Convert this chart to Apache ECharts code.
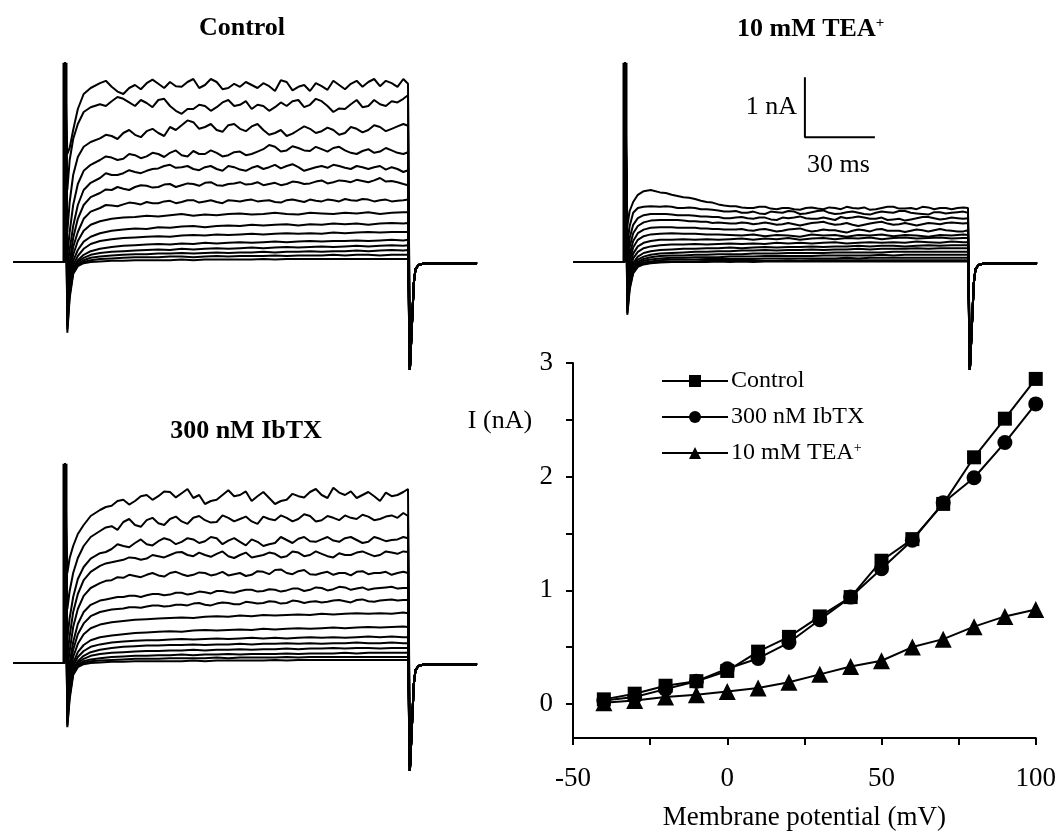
<!DOCTYPE html>
<html><head><meta charset="utf-8">
<script src="https://cdn.jsdelivr.net/npm/echarts/dist/echarts.min.js"></script>
<style>html,body{margin:0;padding:0;background:#fff}#c{width:1059px;height:832px}</style>
</head><body><div id="c"></div>
<script>
const FONT = '"Liberation Serif", "Times New Roman", serif';

// ---------- current traces (nA) sampled at these times (ms after step onset) ----------
const timeMs = [1, 2, 3.5, 5.5, 8, 11, 15, 20, 25, 30, 35, 40, 45, 50, 55, 60, 65, 70, 75, 80, 85, 90, 95, 100, 105, 110, 115, 120, 125, 130, 135, 140, 145, 147];
// extra samples between the 5-ms points, read for the larger (noisier) traces
const midTimeMs = [17.5, 22.5, 27.5, 32.5, 37.5, 42.5, 47.5, 52.5, 57.5, 62.5, 67.5, 72.5, 77.5, 82.5, 87.5, 92.5, 97.5, 102.5, 107.5, 112.5, 117.5, 122.5, 127.5, 132.5, 137.5, 142.5];
const preTimes = [-22, -0.3];
const spikeTime = 0;
const spikePeak = 3.32;
const tailTimes = [147.8, 148.6, 149.5, 150.2, 151.5, 154, 176.6];
const tailCurrent = [-1.8, -1.8, -0.35, -0.12, -0.05, -0.02, -0.02];
const stepPotentials = [-40, -30, -20, -10, 0, 10, 20, 30, 40, 50, 60, 70, 80, 90, 100];

const controlTraces = [
  [-1.18,-0.6,-0.2,-0.07,-0.02,0.0,0.01,0.02,0.02,0.03,0.03,0.03,0.03,0.04,0.03,0.04,0.04,0.04,0.04,0.04,0.05,0.04,0.05,0.05,0.05,0.05,0.05,0.05,0.05,0.05,0.05,0.05,0.05,0.05],
  [-1.12,-0.55,-0.18,-0.05,0.0,0.03,0.05,0.06,0.07,0.08,0.08,0.08,0.09,0.09,0.08,0.09,0.1,0.09,0.1,0.1,0.1,0.11,0.1,0.11,0.11,0.11,0.12,0.11,0.12,0.12,0.11,0.12,0.12,0.12],
  [-1.07,-0.5,-0.15,-0.03,0.03,0.07,0.09,0.11,0.12,0.13,0.13,0.14,0.14,0.15,0.14,0.15,0.16,0.15,0.16,0.16,0.17,0.16,0.17,0.17,0.18,0.17,0.18,0.18,0.19,0.18,0.19,0.2,0.19,0.2],
  [-1.0,-0.45,-0.12,0.0,0.07,0.12,0.15,0.17,0.18,0.19,0.2,0.21,0.2,0.22,0.21,0.22,0.23,0.22,0.23,0.24,0.23,0.24,0.25,0.24,0.25,0.26,0.25,0.26,0.27,0.26,0.27,0.28,0.27,0.28],
  [-0.9,-0.4,-0.1,0.03,0.12,0.18,0.22,0.25,0.27,0.28,0.29,0.3,0.29,0.31,0.3,0.32,0.31,0.32,0.33,0.32,0.33,0.34,0.33,0.34,0.35,0.34,0.35,0.35,0.36,0.35,0.36,0.37,0.36,0.37],
  [-0.8,-0.35,-0.05,0.1,0.22,0.3,0.35,0.38,0.4,0.41,0.42,0.43,0.42,0.44,0.45,0.44,0.46,0.45,0.46,0.47,0.46,0.47,0.48,0.47,0.48,0.47,0.49,0.48,0.49,0.5,0.49,0.5,0.5,0.5],
  [-0.7,-0.3,0.02,0.2,0.34,0.42,0.48,0.52,0.54,0.56,0.55,0.58,0.57,0.59,0.6,0.58,0.6,0.61,0.6,0.62,0.61,0.62,0.63,0.61,0.63,0.62,0.64,0.63,0.64,0.62,0.64,0.65,0.64,0.65],
  [-0.55,-0.2,0.12,0.35,0.52,0.62,0.68,0.72,0.74,0.75,0.77,0.76,0.78,0.8,0.77,0.79,0.78,0.8,0.81,0.79,0.8,0.82,0.8,0.79,0.82,0.81,0.8,0.82,0.81,0.83,0.8,0.82,0.83,0.83],
  [-0.4,-0.1,0.25,0.5,0.72,0.84,0.9,0.94,0.96,0.98,1.0,0.98,1.02,1.0,1.03,1.01,1.0,1.03,1.01,1.04,1.02,1.0,1.03,1.02,1.04,1.01,1.03,1.05,1.02,1.04,1.03,1.01,1.03,1.04],
  [-0.25,0.0,0.4,0.72,0.95,1.08,1.15,1.2,1.22,1.25,1.27,1.25,1.3,1.28,1.3,1.32,1.28,1.3,1.33,1.3,1.28,1.32,1.3,1.33,1.31,1.36,1.33,1.35,1.37,1.33,1.4,1.35,1.3,1.28],
  [-0.1,0.2,0.6,0.95,1.2,1.32,1.4,1.45,1.48,1.5,1.52,1.56,1.62,1.58,1.55,1.58,1.55,1.6,1.54,1.57,1.55,1.62,1.6,1.58,1.55,1.6,1.62,1.57,1.6,1.55,1.6,1.58,1.5,1.53],
  [0.1,0.5,0.95,1.3,1.52,1.62,1.7,1.74,1.72,1.78,1.76,1.8,1.82,1.78,1.85,1.8,1.82,1.78,1.84,1.8,1.88,1.92,1.86,1.9,1.85,1.88,1.9,1.86,1.8,1.88,1.84,1.86,1.8,1.83],
  [0.5,1.0,1.45,1.75,1.92,2.0,2.06,2.1,2.15,2.12,2.18,2.15,2.25,2.28,2.33,2.25,2.2,2.28,2.22,2.26,2.2,2.15,2.1,2.2,2.22,2.18,2.2,2.15,2.22,2.2,2.25,2.22,2.3,2.27],
  [1.2,1.7,2.05,2.3,2.5,2.58,2.63,2.68,2.72,2.6,2.65,2.7,2.6,2.47,2.55,2.6,2.58,2.7,2.62,2.55,2.6,2.58,2.6,2.7,2.62,2.68,2.5,2.55,2.7,2.6,2.63,2.68,2.72,2.78],
  [1.8,1.9,2.2,2.55,2.8,2.9,2.98,2.92,2.8,2.95,2.98,2.97,3.0,2.92,3.05,2.95,3.0,2.9,2.92,2.95,2.98,2.85,3.0,2.92,2.85,2.93,3.02,2.88,3.02,3.0,2.93,2.98,3.05,2.97]
];
// mid samples for the top seven control traces (+40 ... +100 mV)
const controlMid = [
  [0.95,0.93,0.99,0.96,0.98,1.01,0.98,1.03,0.99,1.03,0.98,1.02,1.03,1.01,1.03,0.99,1.04,1.0,1.02,1.04,1.01,1.03,1.05,1.01,1.04,1.02],
  [1.21,1.25,1.2,1.28,1.24,1.29,1.25,1.31,1.27,1.33,1.27,1.31,1.29,1.33,1.3,1.28,1.34,1.3,1.34,1.31,1.36,1.33,1.35,1.36,1.34,1.33],
  [1.48,1.45,1.53,1.48,1.55,1.6,1.57,1.6,1.53,1.6,1.52,1.58,1.52,1.6,1.58,1.56,1.63,1.52,1.58,1.57,1.6,1.55,1.58,1.58,1.54,1.55],
  [1.76,1.7,1.8,1.73,1.82,1.75,1.86,1.76,1.8,1.86,1.76,1.83,1.78,1.84,1.95,1.84,1.93,1.86,1.92,1.84,1.92,1.82,1.85,1.82,1.9,1.82],
  [2.12,2.05,2.2,2.08,2.22,2.1,2.2,2.36,2.22,2.3,2.17,2.3,2.18,2.3,2.12,2.2,2.14,2.26,2.15,2.24,2.12,2.25,2.16,2.28,2.18,2.26],
  [2.6,2.75,2.66,2.7,2.58,2.72,2.52,2.55,2.62,2.52,2.66,2.6,2.68,2.62,2.52,2.66,2.68,2.58,2.72,2.6,2.56,2.63,2.58,2.7,2.6,2.66],
  [3.02,2.84,2.9,2.88,3.04,2.9,2.93,3.0,2.9,3.05,2.88,2.97,3.0,2.9,2.93,3.03,2.86,2.95,2.98,2.87,2.95,2.97,2.92,3.05,3.02,2.92]
];

const teaTraces = [
  [-0.88,-0.46,-0.19,-0.08,-0.04,-0.02,-0.01,0.0,0.0,0.0,0.0,0.01,0.0,0.01,0.0,0.01,0.01,0.01,0.01,0.01,0.01,0.01,0.01,0.01,0.01,0.01,0.01,0.01,0.01,0.01,0.01,0.01,0.01,0.01],
  [-0.85,-0.43,-0.17,-0.07,-0.03,-0.01,0.0,0.01,0.01,0.01,0.02,0.02,0.02,0.02,0.02,0.02,0.02,0.03,0.02,0.03,0.03,0.03,0.03,0.03,0.03,0.03,0.03,0.03,0.03,0.03,0.03,0.03,0.03,0.03],
  [-0.81,-0.4,-0.15,-0.05,-0.01,0.01,0.03,0.04,0.04,0.04,0.05,0.05,0.05,0.05,0.05,0.06,0.06,0.06,0.06,0.06,0.06,0.06,0.07,0.06,0.07,0.07,0.07,0.07,0.07,0.07,0.07,0.07,0.07,0.07],
  [-0.76,-0.37,-0.13,-0.03,0.02,0.04,0.06,0.07,0.07,0.08,0.08,0.08,0.09,0.09,0.09,0.1,0.1,0.1,0.1,0.1,0.11,0.11,0.11,0.11,0.11,0.12,0.11,0.12,0.12,0.12,0.12,0.12,0.12,0.12],
  [-0.7,-0.33,-0.1,0.0,0.05,0.08,0.1,0.11,0.11,0.12,0.12,0.13,0.13,0.13,0.14,0.14,0.14,0.15,0.15,0.15,0.15,0.16,0.16,0.16,0.16,0.16,0.17,0.17,0.17,0.17,0.17,0.17,0.17,0.17],
  [-0.62,-0.28,-0.06,0.04,0.09,0.12,0.14,0.15,0.16,0.17,0.17,0.18,0.18,0.19,0.19,0.2,0.19,0.2,0.2,0.21,0.2,0.21,0.21,0.22,0.21,0.22,0.22,0.22,0.23,0.22,0.23,0.23,0.23,0.23],
  [-0.55,-0.22,-0.02,0.09,0.15,0.18,0.2,0.21,0.22,0.22,0.23,0.23,0.24,0.23,0.24,0.25,0.24,0.25,0.25,0.26,0.25,0.26,0.26,0.27,0.26,0.27,0.27,0.26,0.27,0.28,0.27,0.28,0.28,0.28],
  [-0.45,-0.15,0.06,0.17,0.23,0.26,0.28,0.29,0.29,0.3,0.29,0.3,0.31,0.3,0.31,0.3,0.32,0.31,0.32,0.31,0.32,0.33,0.31,0.32,0.33,0.32,0.33,0.32,0.34,0.33,0.32,0.34,0.33,0.33],
  [-0.35,-0.08,0.14,0.26,0.32,0.35,0.37,0.37,0.38,0.37,0.38,0.37,0.38,0.39,0.37,0.39,0.38,0.4,0.37,0.39,0.4,0.38,0.4,0.39,0.41,0.38,0.4,0.41,0.39,0.4,0.41,0.39,0.4,0.4],
  [-0.25,0.02,0.24,0.37,0.43,0.46,0.47,0.48,0.47,0.47,0.46,0.46,0.45,0.44,0.46,0.43,0.45,0.44,0.42,0.46,0.44,0.45,0.42,0.45,0.44,0.46,0.43,0.45,0.44,0.42,0.45,0.44,0.46,0.45],
  [-0.15,0.12,0.35,0.48,0.54,0.57,0.58,0.58,0.57,0.57,0.56,0.55,0.54,0.55,0.52,0.55,0.51,0.54,0.56,0.51,0.54,0.53,0.49,0.54,0.51,0.55,0.52,0.5,0.54,0.51,0.55,0.52,0.51,0.53],
  [-0.05,0.25,0.48,0.6,0.66,0.69,0.7,0.7,0.69,0.68,0.67,0.66,0.64,0.66,0.63,0.66,0.62,0.65,0.61,0.65,0.67,0.62,0.65,0.6,0.64,0.67,0.62,0.65,0.61,0.65,0.63,0.66,0.64,0.65],
  [0.1,0.4,0.62,0.73,0.78,0.8,0.8,0.79,0.78,0.77,0.76,0.75,0.73,0.75,0.72,0.74,0.7,0.73,0.76,0.72,0.74,0.7,0.73,0.76,0.72,0.74,0.71,0.69,0.73,0.75,0.71,0.74,0.72,0.73],
  [0.3,0.6,0.82,0.9,0.92,0.93,0.92,0.92,0.9,0.9,0.88,0.86,0.84,0.82,0.84,0.8,0.83,0.85,0.8,0.83,0.86,0.8,0.83,0.82,0.79,0.84,0.82,0.85,0.81,0.79,0.83,0.82,0.84,0.82],
  [0.6,0.85,1.0,1.12,1.18,1.2,1.16,1.12,1.08,1.05,1.0,0.96,0.93,0.91,0.9,0.92,0.88,0.9,0.87,0.91,0.88,0.9,0.92,0.89,0.87,0.9,0.92,0.89,0.88,0.91,0.9,0.88,0.91,0.9]
];
// mid samples for the top five TEA traces (+60 ... +100 mV)
const teaMid = [
  [0.58,0.57,0.57,0.56,0.55,0.54,0.54,0.53,0.54,0.53,0.52,0.55,0.53,0.52,0.53,0.51,0.52,0.53,0.54,0.52,0.52,0.52,0.53,0.53,0.53,0.51],
  [0.7,0.7,0.68,0.67,0.65,0.65,0.64,0.65,0.64,0.64,0.63,0.63,0.63,0.66,0.64,0.63,0.62,0.62,0.66,0.64,0.63,0.63,0.63,0.64,0.65,0.65],
  [0.8,0.78,0.78,0.76,0.75,0.73,0.74,0.73,0.74,0.71,0.74,0.74,0.73,0.72,0.72,0.75,0.74,0.74,0.72,0.7,0.72,0.71,0.75,0.73,0.72,0.73],
  [0.93,0.9,0.91,0.88,0.87,0.84,0.85,0.82,0.81,0.84,0.82,0.84,0.81,0.85,0.82,0.81,0.84,0.8,0.82,0.83,0.85,0.82,0.8,0.83,0.81,0.83],
  [1.15,1.1,1.07,1.02,0.99,0.94,0.93,0.9,0.92,0.89,0.9,0.88,0.9,0.89,0.91,0.88,0.9,0.91,0.88,0.92,0.89,0.9,0.92,0.88,0.9,0.9]
];

const ibtxTraces = [
  [-1.07,-0.6,-0.2,-0.07,-0.02,0.0,0.01,0.02,0.02,0.03,0.03,0.03,0.03,0.03,0.04,0.03,0.04,0.04,0.04,0.04,0.04,0.05,0.04,0.05,0.05,0.05,0.05,0.05,0.05,0.05,0.05,0.05,0.05,0.05],
  [-1.04,-0.55,-0.18,-0.05,0.0,0.03,0.04,0.05,0.06,0.07,0.07,0.07,0.08,0.08,0.08,0.08,0.09,0.08,0.09,0.09,0.09,0.09,0.1,0.09,0.1,0.1,0.1,0.1,0.1,0.1,0.1,0.1,0.1,0.1],
  [-1.0,-0.5,-0.15,-0.03,0.03,0.06,0.08,0.1,0.11,0.12,0.12,0.13,0.13,0.14,0.13,0.14,0.14,0.15,0.14,0.15,0.15,0.15,0.16,0.15,0.16,0.16,0.16,0.17,0.16,0.17,0.17,0.17,0.17,0.17],
  [-0.95,-0.45,-0.12,0.0,0.07,0.12,0.15,0.17,0.18,0.19,0.2,0.2,0.21,0.21,0.22,0.21,0.22,0.22,0.23,0.22,0.23,0.23,0.24,0.23,0.24,0.24,0.25,0.24,0.25,0.25,0.24,0.25,0.25,0.25],
  [-0.88,-0.4,-0.1,0.03,0.12,0.18,0.22,0.25,0.27,0.28,0.29,0.29,0.3,0.3,0.31,0.3,0.31,0.31,0.32,0.31,0.32,0.32,0.33,0.32,0.33,0.32,0.33,0.33,0.34,0.33,0.33,0.34,0.33,0.33],
  [-0.8,-0.35,-0.05,0.1,0.2,0.27,0.31,0.34,0.36,0.37,0.38,0.38,0.39,0.4,0.39,0.4,0.41,0.4,0.41,0.42,0.41,0.42,0.41,0.42,0.43,0.42,0.43,0.42,0.43,0.44,0.43,0.44,0.43,0.43],
  [-0.7,-0.3,0.0,0.18,0.3,0.38,0.43,0.46,0.48,0.5,0.51,0.52,0.53,0.52,0.54,0.55,0.54,0.55,0.56,0.55,0.57,0.56,0.57,0.58,0.57,0.58,0.59,0.58,0.59,0.6,0.59,0.6,0.61,0.6],
  [-0.55,-0.2,0.1,0.32,0.48,0.58,0.64,0.68,0.7,0.72,0.73,0.74,0.75,0.76,0.75,0.77,0.78,0.77,0.79,0.78,0.8,0.79,0.8,0.81,0.8,0.82,0.81,0.82,0.83,0.82,0.83,0.82,0.84,0.83],
  [-0.4,-0.1,0.22,0.48,0.66,0.78,0.85,0.89,0.91,0.93,0.94,0.96,0.95,0.97,0.99,0.97,0.99,1.0,0.98,1.01,1.0,1.02,1.0,1.03,1.02,1.01,1.04,1.03,1.05,1.03,1.04,1.06,1.05,1.05],
  [-0.25,0.0,0.35,0.65,0.85,0.97,1.04,1.08,1.1,1.12,1.13,1.15,1.14,1.17,1.16,1.18,1.2,1.18,1.2,1.22,1.2,1.22,1.21,1.24,1.22,1.25,1.23,1.26,1.24,1.22,1.25,1.27,1.25,1.25],
  [-0.1,0.2,0.6,0.9,1.12,1.25,1.33,1.38,1.42,1.45,1.47,1.46,1.5,1.48,1.47,1.5,1.48,1.46,1.5,1.47,1.52,1.55,1.5,1.53,1.48,1.5,1.47,1.5,1.52,1.48,1.5,1.47,1.52,1.5],
  [0.1,0.45,0.85,1.15,1.38,1.52,1.62,1.68,1.72,1.75,1.74,1.78,1.8,1.85,1.78,1.8,1.82,1.78,1.8,1.76,1.8,1.82,1.78,1.84,1.8,1.82,1.76,1.8,1.84,1.82,1.8,1.84,1.86,1.85],
  [0.4,0.75,1.1,1.4,1.6,1.74,1.83,1.9,1.95,2.0,1.98,2.03,2.05,2.02,2.06,2.03,2.08,2.04,2.02,2.06,1.95,2.0,2.05,2.07,2.03,2.06,2.04,2.08,2.05,2.02,2.07,2.05,2.1,2.08],
  [0.9,1.2,1.5,1.75,1.95,2.1,2.2,2.28,2.35,2.3,2.38,2.33,2.4,2.36,2.42,2.38,2.35,2.42,2.4,2.36,2.44,2.38,2.42,2.4,2.45,2.38,2.42,2.46,2.4,2.44,2.4,2.46,2.5,2.45],
  [1.5,1.75,1.95,2.15,2.3,2.45,2.55,2.62,2.72,2.7,2.8,2.78,2.85,2.83,2.75,2.65,2.72,2.88,2.8,2.7,2.85,2.65,2.72,2.78,2.85,2.8,2.92,2.8,2.75,2.85,2.7,2.78,2.85,2.9]
];
// mid samples for the top seven IbTX traces (+40 ... +100 mV)
const ibtxMid = [
  [0.87,0.9,0.93,0.92,0.96,0.94,0.97,0.96,1.0,0.96,1.01,0.98,1.02,0.99,1.03,0.99,1.04,1.0,1.03,1.02,1.05,1.01,1.06,1.02,1.05,1.04],
  [1.06,1.1,1.12,1.1,1.15,1.13,1.17,1.14,1.19,1.16,1.2,1.17,1.22,1.19,1.23,1.19,1.24,1.2,1.26,1.21,1.27,1.22,1.26,1.24,1.26,1.24],
  [1.37,1.43,1.47,1.43,1.5,1.44,1.52,1.45,1.51,1.46,1.52,1.48,1.45,1.53,1.48,1.56,1.48,1.55,1.47,1.52,1.5,1.46,1.53,1.5,1.52,1.5],
  [1.66,1.7,1.76,1.72,1.8,1.76,1.84,1.8,1.84,1.77,1.86,1.75,1.84,1.78,1.84,1.76,1.86,1.78,1.86,1.78,1.83,1.8,1.86,1.78,1.86,1.82],
  [1.85,1.98,1.93,2.06,1.96,2.08,1.98,2.08,2.0,2.1,1.98,2.08,1.96,2.02,1.98,2.1,2.0,2.1,2.02,2.1,2.02,2.1,2.0,2.1,2.03,2.06],
  [2.26,2.22,2.4,2.27,2.42,2.3,2.44,2.32,2.45,2.34,2.46,2.36,2.44,2.32,2.4,2.46,2.36,2.48,2.36,2.45,2.38,2.42,2.47,2.38,2.44,2.42],
  [2.6,2.7,2.64,2.78,2.72,2.86,2.76,2.9,2.8,2.7,2.8,2.78,2.86,2.78,2.75,2.7,2.82,2.76,2.9,2.75,2.84,2.86,2.8,2.78,2.84,2.8]
];

// scale bar (drawn in the TEA panel's own scale)
const scaleBarTime = 77.1, scaleBarCurrent = 2.08, scaleBarNA = 1, scaleBarMs = 30;

// ---------- I-V relation ----------
const ivVoltage = [-40, -30, -20, -10, 0, 10, 20, 30, 40, 50, 60, 70, 80, 90, 100];
const ivControl = [0.04, 0.09, 0.16, 0.2, 0.29, 0.46, 0.59, 0.77, 0.94, 1.26, 1.45, 1.76, 2.17, 2.51, 2.86];
const ivIbtx    = [0.03, 0.06, 0.13, 0.2, 0.31, 0.4, 0.54, 0.74, 0.94, 1.19, 1.44, 1.77, 1.99, 2.3, 2.64];
const ivTea     = [0.01, 0.03, 0.06, 0.08, 0.11, 0.14, 0.19, 0.26, 0.33, 0.38, 0.5, 0.57, 0.68, 0.77, 0.83];
const ivXTicks = [-50, 0, 50, 100];
const ivYTicks = [0, 1, 2, 3];
const ivYMinorTicks = [0, 0.5, 1, 1.5, 2, 2.5, 3];

function traceData(vals, mids) {
  const pts = timeMs.map((t, i) => [t, vals[i]]);
  if (mids) midTimeMs.forEach((t, i) => pts.push([t, mids[i]]));
  pts.sort((a, b) => a[0] - b[0]);
  const d = [[preTimes[0], 0], [preTimes[1], 0], [spikeTime, spikePeak]].concat(pts);
  tailTimes.forEach((t, i) => d.push([t, tailCurrent[i]]));
  return d;
}

const chart = echarts.init(document.getElementById('c'), null, {renderer: 'canvas'});
const PXMS = 70 / 30, PXNA = 60;
const trW = 200 * PXMS, trH = 5.5 * PXNA;
const grid = [
  {left: 65 - 22 * PXMS, top: 262 - 3.5 * PXNA, width: trW, height: trH},
  {left: 625 - 22 * PXMS, top: 262 - 3.5 * PXNA, width: trW, height: trH},
  {left: 65 - 22 * PXMS, top: 663 - 3.5 * PXNA, width: trW, height: trH},
  {left: 573, top: 363, width: 464, height: 384}
];
const hiddenX = i => ({type: 'value', gridIndex: i, min: -22, max: 178, show: false});
const hiddenY = i => ({type: 'value', gridIndex: i, min: -2, max: 3.5, show: false});

const series = [];
[[controlTraces, controlMid, 0], [teaTraces, teaMid, 1], [ibtxTraces, ibtxMid, 2]].forEach(([traces, mids, g]) => {
  const off = traces.length - mids.length;
  traces.forEach((vals, i) => series.push({
    type: 'line', xAxisIndex: g, yAxisIndex: g, data: traceData(vals, i >= off ? mids[i - off] : null),
    showSymbol: false, symbol: 'none', silent: true,
    lineStyle: {color: '#000', width: 2}
  }));
  series.push({
    type: 'line', xAxisIndex: g, yAxisIndex: g, data: [[spikeTime, 0], [spikeTime, spikePeak]],
    symbol: 'none', silent: true, lineStyle: {color: '#000', width: 5}
  });
});
series.push({
  type: 'line', xAxisIndex: 1, yAxisIndex: 1, symbol: 'none', silent: true,
  data: [[scaleBarTime, scaleBarCurrent + scaleBarNA], [scaleBarTime, scaleBarCurrent], [scaleBarTime + scaleBarMs, scaleBarCurrent]],
  lineStyle: {color: '#000', width: 2}
});

const ivSeries = (name, vals, symbol, size) => ({
  name, type: 'line', xAxisIndex: 3, yAxisIndex: 3, silent: true,
  data: ivVoltage.map((v, i) => [v, vals[i]]),
  symbol, symbolSize: size, showAllSymbol: true,
  itemStyle: {color: '#000', borderWidth: 0},
  lineStyle: {color: '#000', width: 2}
});
series.push(ivSeries('10 mM TEA+', ivTea, 'triangle', 17));
series.push(ivSeries('300 nM IbTX', ivIbtx, 'circle', 15));
series.push(ivSeries('Control', ivControl, 'rect', 14));

const titleFont = 'bold 26px ' + FONT;
chart.setOption({
  animation: false,
  backgroundColor: '#fff',
  grid,
  xAxis: [hiddenX(0), hiddenX(1), hiddenX(2), {
    type: 'value', gridIndex: 3, min: -50, max: 100, interval: 25,
    axisLine: {show: true, onZero: false, lineStyle: {color: '#000', width: 2}},
    axisTick: {show: true, length: 7, lineStyle: {color: '#000', width: 2}},
    axisLabel: {customValues: ivXTicks, color: '#000', fontFamily: FONT, fontSize: 27, margin: 27},
    splitLine: {show: false},
    name: 'Membrane potential (mV)', nameLocation: 'middle', nameGap: 66,
    nameTextStyle: {color: '#000', fontFamily: FONT, fontSize: 27}
  }],
  yAxis: [hiddenY(0), hiddenY(1), hiddenY(2), {
    type: 'value', gridIndex: 3, min: -0.3, max: 3,
    axisLine: {show: true, onZero: false, lineStyle: {color: '#000', width: 2}},
    axisTick: {show: true, length: 7, customValues: ivYMinorTicks, lineStyle: {color: '#000', width: 2}},
    axisLabel: {customValues: ivYTicks, color: '#000', fontFamily: FONT, fontSize: 27, margin: 20},
    splitLine: {show: false}
  }],
  legend: {
    orient: 'vertical', left: 656, top: 364, itemWidth: 66, itemHeight: 15, itemGap: 12,
    selectedMode: false,
    data: ['Control', '300 nM IbTX', '10 mM TEA+'],
    formatter: n => n === '10 mM TEA+' ? '{a|10 mM TEA}{s|+}' : '{a|' + n + '}',
    textStyle: {color: '#000', fontFamily: FONT, fontSize: 24, padding: [0, 0, 0, -2],
      rich: {a: {fontFamily: FONT, fontSize: 24, color: '#000'},
             s: {fontFamily: FONT, fontSize: 14, color: '#000', verticalAlign: 'top', lineHeight: 14}}}
  },
  graphic: [
    {type: 'text', x: 242, y: 28, style: {text: 'Control', font: titleFont, fill: '#000', textAlign: 'center', textVerticalAlign: 'middle'}},
    {type: 'text', x: 246, y: 431, style: {text: '300 nM IbTX', font: titleFont, fill: '#000', textAlign: 'center', textVerticalAlign: 'middle'}},
    {type: 'text', x: 737, y: 16, style: {text: '{a|10 mM TEA}{s|+}', fill: '#000', textAlign: 'left', textVerticalAlign: 'top',
      rich: {a: {font: titleFont, fill: '#000'}, s: {font: 'bold 15px ' + FONT, fill: '#000', verticalAlign: 'top', lineHeight: 14}}}},
    {type: 'text', x: 797, y: 107, style: {text: '1 nA', font: '26px ' + FONT, fill: '#000', textAlign: 'right', textVerticalAlign: 'middle'}},
    {type: 'text', x: 807, y: 165, style: {text: '30 ms', font: '26px ' + FONT, fill: '#000', textAlign: 'left', textVerticalAlign: 'middle'}},
    {type: 'text', x: 500, y: 421, style: {text: 'I (nA)', font: '26px ' + FONT, fill: '#000', textAlign: 'center', textVerticalAlign: 'middle'}}
  ],
  series
});
</script></body></html>
